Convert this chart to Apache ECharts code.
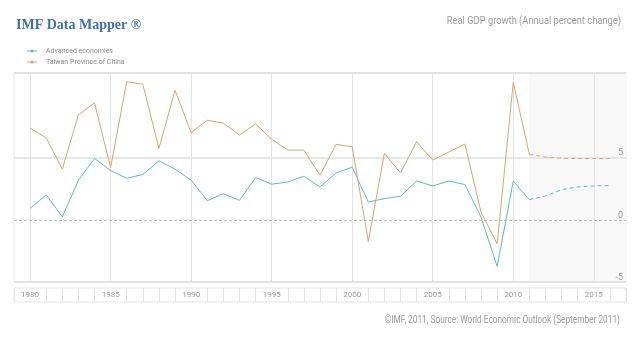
<!DOCTYPE html>
<html>
<head>
<meta charset="utf-8">
<script src="https://cdn.jsdelivr.net/npm/echarts@6/dist/echarts.min.js"></script>
<style>
  html, body { margin: 0; padding: 0; background: #fff; }
  #chart { width: 640px; height: 339px; }
</style>
</head>
<body>
<div id="chart"></div>
<script>
// Real GDP growth, annual percent change
const years = [1980,1981,1982,1983,1984,1985,1986,1987,1988,1989,1990,1991,1992,1993,1994,1995,1996,1997,1998,1999,2000,2001,2002,2003,2004,2005,2006,2007,2008,2009,2010,2011,2012,2013,2014,2015,2016];
const advanced = [0.9,2.0,0.24,3.18,4.93,3.96,3.34,3.64,4.74,4.07,3.18,1.54,2.1,1.56,3.4,2.86,3.04,3.5,2.64,3.77,4.23,1.43,1.7,1.89,3.12,2.72,3.12,2.83,0.21,-3.75,3.1,1.62,1.91,2.43,2.64,2.72,2.75];
const taiwan = [7.36,6.6,4.07,8.44,9.4,4.2,11.1,10.9,5.74,10.4,7.0,8.0,7.77,6.82,7.71,6.47,5.6,5.6,3.58,6.07,5.87,-1.73,5.34,3.77,6.28,4.8,5.45,6.09,0.61,-1.94,11.05,5.26,5.04,4.96,4.92,4.92,4.92];
const projectionStart = 2011;
const seriesNames = ['Advanced economies', 'Taiwan Province of China'];
const yTicks = [-5, 0, 5];

const colAdv = '#55bccb';
const colTw = '#dea466';
const font = 'Roboto, sans-serif';

function actual(values) {
  return years.map((y, i) => [y, values[i]]).filter(p => p[0] <= projectionStart);
}
function projected(values) {
  return years.map((y, i) => [y, values[i]]).filter(p => p[0] >= projectionStart);
}

// line with a small dot in the middle, used as the legend marker
const legendIcon = 'path://M0,1 L10,1 L10,2 L0,2 Z M5,0 A1.5,1.5 0 1 1 5,3 A1.5,1.5 0 1 1 5,0 Z';

const chart = echarts.init(document.getElementById('chart'), null, { renderer: 'canvas' });

chart.setOption({
  animation: false,
  backgroundColor: '#ffffff',
  title: {
    text: 'IMF Data Mapper ®', left: 11, top: 13,
    textStyle: { fontFamily: '"Liberation Serif", serif', fontWeight: 'bold', fontSize: 14, color: '#3f6fae' }
  },
  graphic: [
    { type: 'text', x: 621, y: 21, scaleX: 0.85, silent: true,
      style: { text: 'Real GDP growth (Annual percent change)', font: '11px Roboto, sans-serif', fill: '#9a9a9a',
        textAlign: 'right', textVerticalAlign: 'middle' } },
    { type: 'text', x: 620, y: 320, scaleX: 0.83, silent: true,
      style: { text: '©IMF, 2011, Source: World Economic Outlook (September 2011)', font: '10px Roboto, sans-serif', fill: '#9a9a9a',
        textAlign: 'right', textVerticalAlign: 'middle' } }
  ],
  legend: {
    orient: 'vertical', left: 22, top: 42, itemGap: 3, itemWidth: 10, itemHeight: 3,
    icon: legendIcon,
    data: seriesNames,
    textStyle: { fontFamily: font, fontSize: 7, color: '#888', lineHeight: 8, padding: [0, 0, 0, 4] }
  },
  grid: [
    { left: 14, right: 14, top: 73, bottom: 57, show: true, borderColor: '#e8e8e8', borderWidth: 1 },
    { left: 14, right: 14, top: 288, height: 14, show: true, borderColor: '#e3e3e3', borderWidth: 1 }
  ],
  xAxis: [
    { type: 'value', gridIndex: 0, min: 1979, max: 2017, interval: 1, z: 2,
      axisLine: { show: false }, axisTick: { show: false }, axisLabel: { show: false },
      splitLine: { show: true, lineStyle: { color: ['transparent', '#e4e4e4', 'transparent', 'transparent', 'transparent'], width: 1 } } },
    { type: 'value', gridIndex: 1, min: 1979, max: 2017, interval: 1,
      axisLine: { show: false }, axisTick: { show: false },
      axisLabel: { inside: true, margin: 3, fontSize: 8, fontFamily: font, color: '#999',
        formatter: v => (v % 5 === 0 && v >= 1980 && v <= 2015) ? String(v) : '' },
      splitLine: { show: true, lineStyle: { color: ['#e3e3e3', 'transparent', '#e3e3e3', '#e3e3e3', '#e3e3e3'], width: 1 } } }
  ],
  yAxis: [
    { type: 'value', gridIndex: 0, position: 'right', min: -5, max: 11.8, interval: 5, z: 2,
      axisLine: { show: false }, axisTick: { show: false },
      axisLabel: { inside: true, margin: 3, verticalAlign: 'bottom', fontSize: 9, fontFamily: font, color: '#999',
        formatter: v => yTicks.includes(v) ? String(v) : '' },
      splitLine: { show: true, lineStyle: { color: ['#e2e2e2', 'transparent', '#e6e6e6', 'transparent'], width: 2 } } },
    { type: 'value', gridIndex: 1, min: 0, max: 1, show: false }
  ],
  series: [
    // shaded projection period
    { name: 'projection', type: 'line', data: [], xAxisIndex: 0, yAxisIndex: 0, z: 1, silent: true,
      markArea: { silent: true, itemStyle: { color: '#f8f8f8' },
        data: [[{ xAxis: projectionStart }, { xAxis: 2017 }]] } },
    { name: seriesNames[0], type: 'line', data: actual(advanced), xAxisIndex: 0, yAxisIndex: 0,
      symbol: 'circle', symbolSize: 3, showSymbol: false, lineStyle: { color: colAdv, width: 1 }, itemStyle: { color: colAdv },
      z: 3,
      markLine: { silent: true, symbol: 'none', label: { show: false },
        lineStyle: { color: '#bdbdbd', type: [3, 2], width: 1 }, data: [{ yAxis: 0 }] } },
    { name: seriesNames[0], type: 'line', data: projected(advanced), xAxisIndex: 0, yAxisIndex: 0,
      symbol: 'none', lineStyle: { color: colAdv, width: 1, type: [4, 3] }, itemStyle: { color: colAdv }, z: 3 },
    { name: seriesNames[1], type: 'line', data: actual(taiwan), xAxisIndex: 0, yAxisIndex: 0,
      symbol: 'circle', symbolSize: 3, showSymbol: false, lineStyle: { color: colTw, width: 1 }, itemStyle: { color: colTw }, z: 3 },
    { name: seriesNames[1], type: 'line', data: projected(taiwan), xAxisIndex: 0, yAxisIndex: 0,
      symbol: 'none', lineStyle: { color: colTw, width: 1, type: [4, 3] }, itemStyle: { color: colTw }, z: 3 }
  ]
});
</script>
</body>
</html>
